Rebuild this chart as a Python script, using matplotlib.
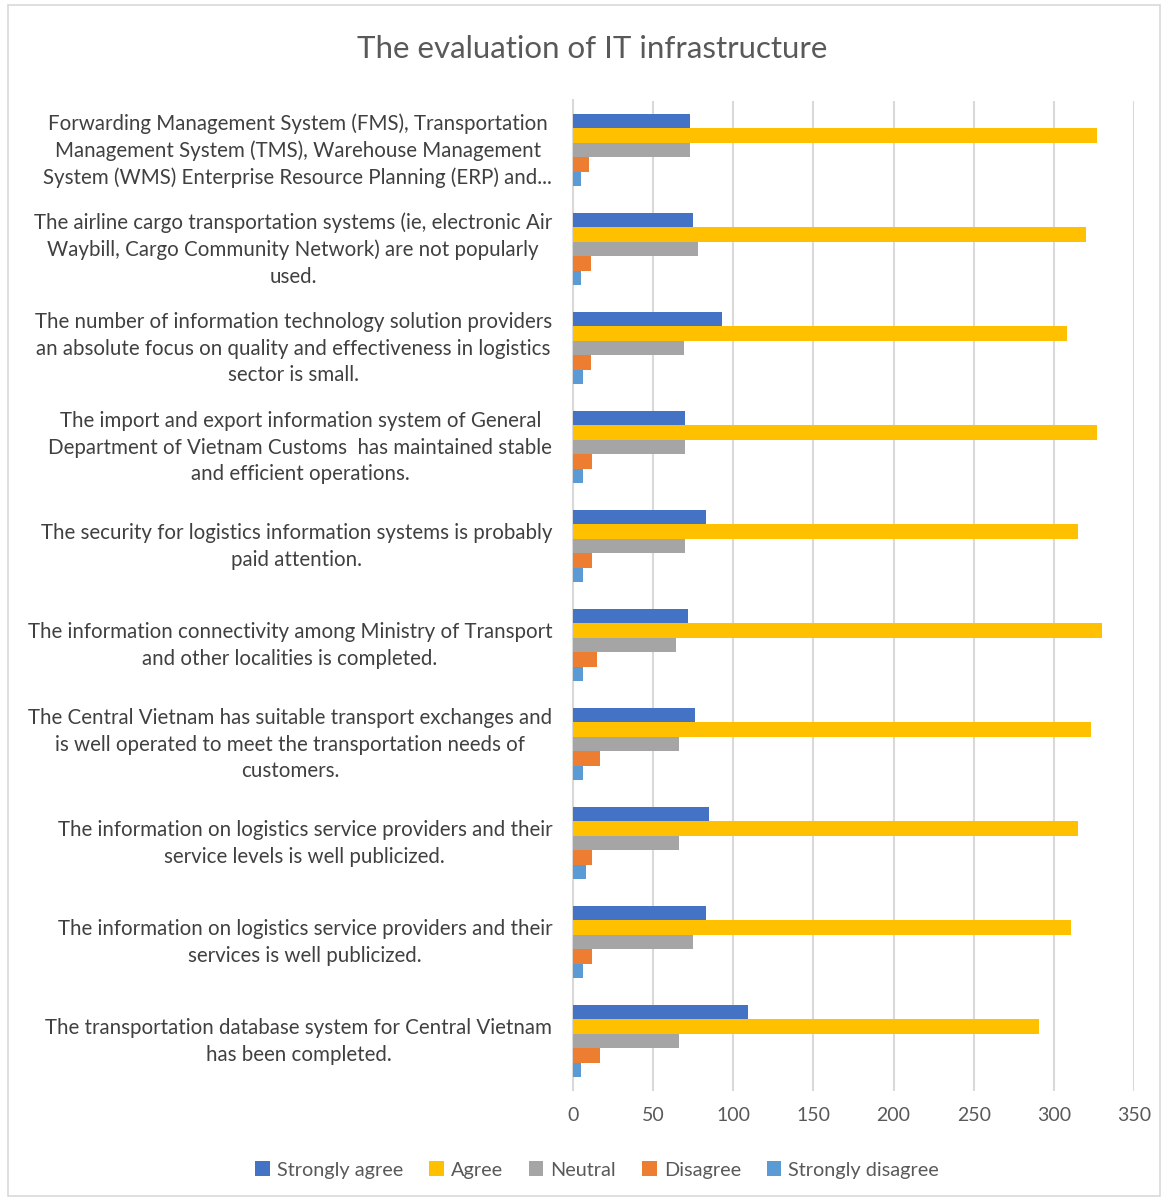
import matplotlib
matplotlib.use("Agg")
import matplotlib.pyplot as plt
import numpy as np
from matplotlib.patches import Rectangle
from matplotlib.transforms import ScaledTranslation

categories = [
    "Forwarding Management System (FMS), Transportation\nManagement System (TMS), Warehouse Management\nSystem (WMS) Enterprise Resource Planning (ERP) and...",
    "The airline cargo transportation systems (ie, electronic Air\nWaybill, Cargo Community Network) are not popularly\nused.",
    "The number of information technology solution providers\nan absolute focus on quality and effectiveness in logistics\nsector is small.",
    "The import and export information system of General\nDepartment of Vietnam Customs  has maintained stable\nand efficient operations.",
    "The security for logistics information systems is probably\npaid attention.",
    "The information connectivity among Ministry of Transport\nand other localities is completed.",
    "The Central Vietnam has suitable transport exchanges and\nis well operated to meet the transportation needs of\ncustomers.",
    "The information on logistics service providers and their\nservice levels is well publicized.",
    "The information on logistics service providers and their\nservices is well publicized.",
    "The transportation database system for Central Vietnam\nhas been completed.",
]
strongly_agree = [73, 75, 93, 70, 83, 72, 76, 85, 83, 109]
agree = [327, 320, 308, 327, 315, 330, 323, 315, 311, 291]
neutral = [73, 78, 69, 70, 70, 64, 66, 66, 75, 66]
disagree = [10, 11, 11, 12, 12, 15, 17, 12, 12, 17]
strongly_disagree = [5, 5, 6, 6, 6, 6, 6, 8, 6, 5]
series_names = ["Strongly agree", "Agree", "Neutral", "Disagree", "Strongly disagree"]
x_ticks = [0, 50, 100, 150, 200, 250, 300, 350]

colors = ["#4472C4", "#FFC000", "#A5A5A5", "#ED7D31", "#5B9BD5"]
series = [strongly_agree, agree, neutral, disagree, strongly_disagree]

plt.rcParams['font.family'] = ['Lato', 'DejaVu Sans']
W, H = 1169, 1202
fig = plt.figure(figsize=(W / 100, H / 100), dpi=100)
fig.patch.set_facecolor("white")
fig.add_artist(Rectangle((8 / W, 1 - 1196 / H), (1160 - 8) / W, (1196 - 5) / H,
                         transform=fig.transFigure, fill=False, edgecolor="#D9D9D9", lw=1.2))

left, right = 573 / W, 1134 / W
top, bottom = 1 - 100.5 / H, 1 - 1090.5 / H
ax = fig.add_axes([left, bottom, right - left, top - bottom])

n = len(categories)
y = np.arange(n)
bh = 0.146
for i, (vals, c, name) in enumerate(zip(series, colors, series_names)):
    offs = (i - 2) * bh
    ax.barh(y + offs, vals, height=bh, color=c, label=name, zorder=3)

ax.set_xlim(0, 350)
ax.set_ylim(n - 0.5, -0.5)
ax.set_xticks(x_ticks)
ax.set_xticklabels([str(t) for t in x_ticks], fontsize=14, color="#595959")
ax.set_yticks(y)
ax.set_yticklabels(categories, fontsize=14.8, color="#404040")
ax.tick_params(axis="both", length=0)
ax.tick_params(axis="y", pad=15)
ax.tick_params(axis="x", pad=12)
shift = ScaledTranslation(0, 0.045, fig.dpi_scale_trans)
for t in ax.get_yticklabels():
    t.set_multialignment("center")
    t.set_linespacing(1.4)
    t.set_transform(t.get_transform() + shift)
ax.grid(axis="x", color="#D9D9D9", lw=1.5, zorder=0)
for s in ["top", "right", "bottom"]:
    ax.spines[s].set_visible(False)
ax.spines["left"].set_color("#D9D9D9")
ax.spines["left"].set_linewidth(1.5)

fig.text(592 / W, 1 - 49 / H, "The evaluation of IT infrastructure", ha="center", va="center",
         fontsize=22.5, color="#595959")

handles, labels = ax.get_legend_handles_labels()
fig.legend(handles, labels, loc="center", bbox_to_anchor=(597 / W, 1 - 1170 / H), ncol=5,
           frameon=False, fontsize=14.3, handlelength=0.75, handleheight=0.75,
           handletextpad=0.35, columnspacing=1.3, labelcolor="#595959")

fig.savefig("out.png", dpi=100)
